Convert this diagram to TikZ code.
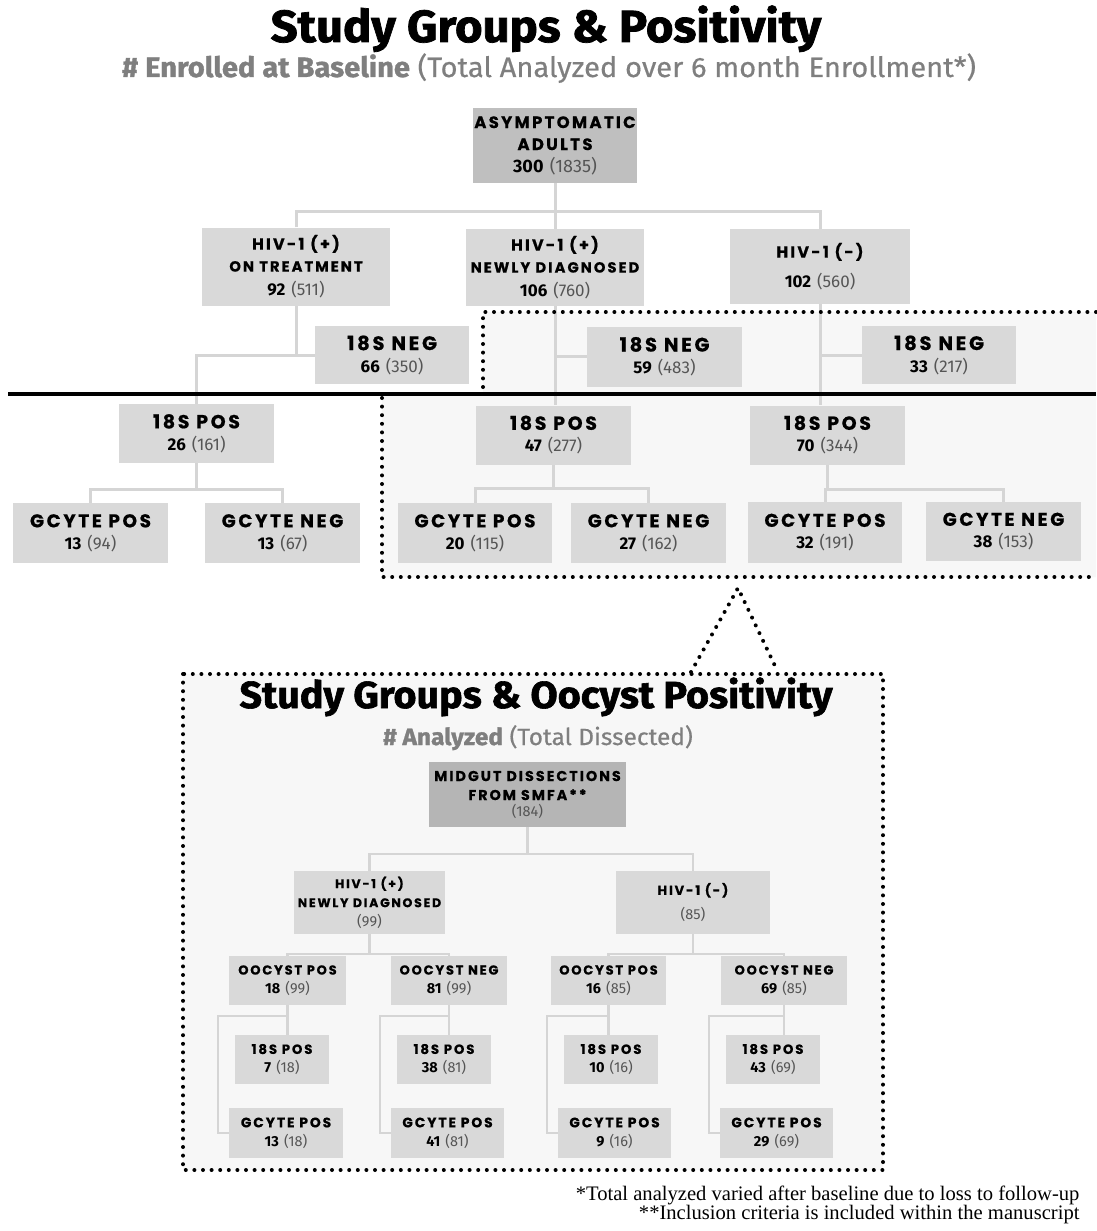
\documentclass[tikz,border=0pt]{standalone}
\usepackage{fontspec}
\usetikzlibrary{calc}
\setmainfont{Poppins}
\newfontfamily\lab{Poppins}[LetterSpace=14, BoldFeatures={FakeBold=0.6}]
\newfontfamily\numf{Fira Sans}
\newfontfamily\titf{Fira Sans}[FakeStretch=1.05, BoldFeatures={FakeBold=1.6}]
\newfontfamily\subf{Fira Sans}[FakeStretch=1.04, UprightFeatures={FakeBold=0.5}, BoldFeatures={FakeBold=1.2}]
\newfontfamily\footf{Liberation Serif}
\definecolor{boxfill}{HTML}{D9D9D9}
\definecolor{rootfill}{HTML}{BFBFBF}
\definecolor{midfill}{HTML}{B5B5B5}
\definecolor{linegray}{HTML}{D5D5D5}
\definecolor{regionfill}{HTML}{F7F7F7}
\definecolor{subgray}{HTML}{7F7F7F}
\definecolor{numgray}{HTML}{555555}
\newcommand\tx[2]{{\fontsize{#1}{0}\selectfont #2}}
\newcommand\numpair[2]{{\numf\bfseries #1} {\numf\mdseries\color{numgray}(#2)}}
\newcommand\numonly[1]{{\numf\mdseries\color{numgray}(#1)}}
\pgfdeclarelayer{back}
\pgfdeclarelayer{mid}
\pgfsetlayers{back,mid,main}
\begin{document}
\begin{tikzpicture}[x=1pt,y=-1pt,
  box/.style={rectangle, fill=boxfill, inner sep=0pt, align=center, text=black},
  rootbox/.style={box, fill=rootfill},
  midbox/.style={box, fill=midfill},
  upper/.style={font=\lab\bfseries\fontsize{17}{22}\selectfont},
  lower/.style={font=\lab\bfseries\fontsize{14.5}{19}\selectfont},
  wh/.style 2 args={minimum width=#1, minimum height=#2},
  conn/.style={draw=linegray, line width=3pt},
  connl/.style={draw=linegray, line width=2.2pt},
  dots/.style={draw=black, line width=4pt, line cap=round, dash pattern=on 0pt off 8.6pt},
  ttl/.style={anchor=base, font=\titf\bfseries\fontsize{45}{48}\selectfont},
  sub/.style={anchor=base, text=subgray, font=\subf\fontsize{28}{30}\selectfont}]
\useasboundingbox (0,0) rectangle (1096,1231);

% titles
\node[ttl] (title) at (546,42) {Study Groups \& Positivity};
\node[sub] (subtitle) at (549,77) {{\bfseries \# Enrolled at Baseline} (Total Analyzed over 6 month Enrollment*)};

% upper tree
\node[rootbox, upper, wh={164}{75}] (root) at (555,145.5) {\tx{16.5}{ASYMPTOMATIC}\\\tx{16.5}{ADULTS}\\\tx{18}{\numpair{300}{1835}}};
\node[box, upper, wh={188}{78}] (treat) at (296,266.5) {\tx{16}{HIV-1 (+)}\\\tx{14.7}{ON TREATMENT}\\[2pt]\numpair{92}{511}};
\node[box, upper, wh={178}{77}] (newdx) at (555,267.5) {\tx{16}{HIV-1 (+)}\\\tx{14.7}{NEWLY DIAGNOSED}\\[2pt]\numpair{106}{760}};
\node[box, upper, wh={180}{75}] (neg) at (820,266.5) {\tx{16}{HIV-1 (-)}\\[8pt]\numpair{102}{560}};
\node[box, upper, wh={154}{58}] (negA) at (392,355) {\tx{19.5}{18S NEG}\\\numpair{66}{350}};
\node[box, upper, wh={155}{60}] (negB) at (664.5,356.5) {\tx{19.5}{18S NEG}\\\numpair{59}{483}};
\node[box, upper, wh={154}{58}] (negC) at (939,355) {\tx{19.5}{18S NEG}\\\numpair{33}{217}};
\node[box, upper, wh={155}{59}] (posA) at (196.5,433.5) {\tx{19}{18S POS}\\\numpair{26}{161}};
\node[box, upper, wh={155}{59}] (posB) at (553.5,435) {\tx{19}{18S POS}\\\numpair{47}{277}};
\node[box, upper, wh={155}{59}] (posC) at (827.5,435) {\tx{19}{18S POS}\\\numpair{70}{344}};
\node[box, upper, wh={155}{60}] (gA1) at (90.5,533) {\tx{18.5}{GCYTE POS}\\\numpair{13}{94}};
\node[box, upper, wh={155}{60}] (gA2) at (282.5,533) {\tx{18.5}{GCYTE NEG}\\\numpair{13}{67}};
\node[box, upper, wh={154}{60}] (gB1) at (475,533) {\tx{18.5}{GCYTE POS}\\\numpair{20}{115}};
\node[box, upper, wh={155}{60}] (gB2) at (648.5,533) {\tx{18.5}{GCYTE NEG}\\\numpair{27}{162}};
\node[box, upper, wh={154}{61}] (gC1) at (825,532.5) {\tx{18.5}{GCYTE POS}\\\numpair{32}{191}};
\node[box, upper, wh={155}{59}] (gC2) at (1003.5,531.5) {\tx{18.5}{GCYTE NEG}\\\numpair{38}{153}};

% lower titles
\node[ttl, font=\titf\bfseries\fontsize{37.6}{42}\selectfont] (title2) at (536,708) {Study Groups \& Oocyst Positivity};
\node[sub, font=\subf\fontsize{23.5}{28}\selectfont] (subtitle2) at (538,745) {{\bfseries \# Analyzed} (Total Dissected)};

% lower tree
\node[midbox, lower, wh={197}{65}] (midgut) at (527.5,794.5) {\tx{14.3}{MIDGUT DISSECTIONS}\\\tx{14.3}{FROM SMFA**}\\[-3pt]\tx{14.5}{\numonly{184}}};
\node[box, lower, wh={151}{63}] (hivP) at (369.5,902.5) {\tx{12.5}{HIV-1 (+)}\\\tx{12.5}{NEWLY DIAGNOSED}\\\numonly{99}};
\node[box, lower, wh={154}{63}] (hivN) at (693,902.5) {\tx{13}{HIV-1 (-)}\\[6pt]\numonly{85}};
\node[box, lower, wh={117}{49}] (oP1) at (287.5,980.5) {\tx{13}{OOCYST POS}\\\numpair{18}{99}};
\node[box, lower, wh={116}{49}] (oN1) at (449,980.5) {\tx{13}{OOCYST NEG}\\\numpair{81}{99}};
\node[box, lower, wh={115}{49}] (oP2) at (608.5,980.5) {\tx{13}{OOCYST POS}\\\numpair{16}{85}};
\node[box, lower, wh={126}{49}] (oN2) at (784,980.5) {\tx{13}{OOCYST NEG}\\\numpair{69}{85}};
\node[box, lower, wh={94}{49}] (s1) at (282,1059.5) {\tx{13.3}{18S POS}\\\numpair{7}{18}};
\node[box, lower, wh={94}{49}] (s2) at (444,1059.5) {\tx{13.3}{18S POS}\\\numpair{38}{81}};
\node[box, lower, wh={94}{49}] (s3) at (611,1059.5) {\tx{13.3}{18S POS}\\\numpair{10}{16}};
\node[box, lower, wh={94}{49}] (s4) at (773,1059.5) {\tx{13.3}{18S POS}\\\numpair{43}{69}};
\node[box, lower, wh={114}{50}] (g1) at (286,1133) {\tx{13.8}{GCYTE POS}\\\numpair{13}{18}};
\node[box, lower, wh={113}{50}] (g2) at (447.5,1133) {\tx{13.8}{GCYTE POS}\\\numpair{41}{81}};
\node[box, lower, wh={113}{50}] (g3) at (614.5,1133) {\tx{13.8}{GCYTE POS}\\\numpair{9}{16}};
\node[box, lower, wh={113}{50}] (g4) at (776.5,1133) {\tx{13.8}{GCYTE POS}\\\numpair{29}{69}};

% footnotes
\node[anchor=base east, font=\footf\fontsize{20.6}{22}\selectfont] (fn1) at (1083,1200) {*Total analyzed varied after baseline due to loss to follow-up};
\node[anchor=base east, font=\footf\fontsize{20.6}{22}\selectfont] (fn2) at (1083,1219) {**Inclusion criteria is included within the manuscript};

% background and regions
\begin{pgfonlayer}{back}
\fill[white] (0,0) rectangle (1096,1231);
\fill[regionfill] (483,312) -- (1096,312) -- (1096,577) -- (382,577) -- (382,394) -- (483,394) -- cycle;
\fill[regionfill] (183,674) rectangle (883,1170);
\end{pgfonlayer}

% connectors
\begin{pgfonlayer}{mid}
\coordinate (bar1) at (555,211);
\draw[conn] (root.south) -- (bar1);
\draw[conn] (treat.north) |- (bar1) -| (neg.north);
\draw[conn] (bar1) -- (newdx.north);
\draw[conn] (treat.south) |- (negA.west);
\draw[conn] (treat.south |- negA.west) -| (posA.north);
\draw[conn] (newdx.south) -- (newdx.south |- posB.north);
\draw[conn] (newdx.south |- negB.west) -- (negB.west);
\draw[conn] (neg.south) -- (neg.south |- posC.north);
\draw[conn] (neg.south |- negC.west) -- (negC.west);
\coordinate (barA) at (196.5,489);
\draw[conn] (posA.south) -- (barA);
\draw[conn] (gA1.north) |- (barA) -| (gA2.north);
\coordinate (barB) at (553.5,488);
\draw[conn] (posB.south) -- (barB);
\draw[conn] (gB1.north) |- (barB) -| (gB2.north);
\coordinate (barC) at (827.5,489);
\draw[conn] (posC.south) -- (barC);
\draw[conn] (gC1.north) |- (barC) -| (gC2.north);
% lower
\coordinate (bar2) at (527.5,854);
\draw[connl] (midgut.south) -- (bar2);
\draw[connl] (hivP.north) |- (bar2) -| (hivN.north);
\coordinate (bar3) at (369.5,954);
\draw[connl] (hivP.south) -- (bar3);
\draw[connl] (oP1.north) |- (bar3) -| (oN1.north);
\coordinate (bar4) at (693,954);
\draw[connl] (hivN.south) -- (bar4);
\draw[connl] (oP2.north) |- (bar4) -| (oN2.north);
\foreach \o/\s/\g in {oP1/s1/g1, oN1/s2/g2, oP2/s3/g3, oN2/s4/g4}{
  \draw[connl] (\o.south) -- (\o.south |- \s.north);
  \draw[connl] ($(\o.south)+(0,11)$) -| ($(\g.west)+(-11,0)$) -- (\g.west);
}
\end{pgfonlayer}

% separator and dotted outlines
\draw[line width=4.5pt] (8,394) -- (1096,394);
\draw[dots] (1096,312) -- (483,312) -- (483,391);
\draw[dots] (382,398) -- (382,577) -- (1096,577);
\draw[dots] (691,672) -- (738,588) -- (776,668);
\draw[dots] (183,674) rectangle (883,1170);
\end{tikzpicture}
\end{document}
